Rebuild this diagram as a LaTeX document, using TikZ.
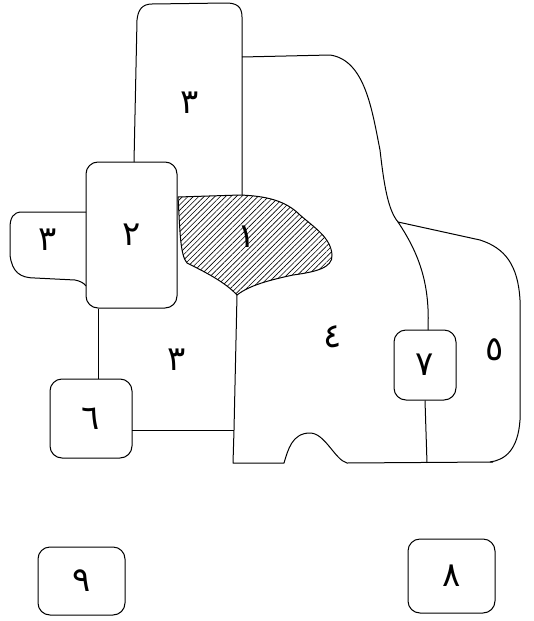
\documentclass[tikz,border=0pt]{standalone}
\usepackage{fontspec}
\usetikzlibrary{patterns.meta}
\newfontfamily\arabicfont[Script=Arabic]{DejaVu Sans}

\begin{document}
\begin{tikzpicture}[
  x=1pt, y=-1pt,
  % region outlines
  edge/.style={draw=black, line width=1pt, line join=round},
  % hand drawn boxes
  boxr/.style={draw=black, line width=1pt, rounded corners=12pt, fill=white,
               inner sep=0pt, font=\arabicfont\fontsize{34}{34}\selectfont},
  % region numbers
  lbl/.style={inner sep=0pt, font=\arabicfont\fontsize{34}{34}\selectfont},
  hatch/.style={pattern={Lines[angle=45, distance=3.8pt, line width=0.6pt]}},
]
\useasboundingbox (0,0) rectangle (533,621);

% ── 1. HATCHED REGION ─────────────────────────────
\path[edge, hatch] (178,197) -- (240,195)
  .. controls (265,196) and (285,200) .. (300,215)
  .. controls (315,228) and (331,238) .. (332,255)
  .. controls (333,268) and (315,272) .. (293,275)
  .. controls (270,280) and (250,285) .. (237,295)
  .. controls (225,282) and (205,272) .. (187,263)
  .. controls (180,255) and (180,230) .. (178,197) -- cycle;
\node[lbl] (l1) at (247,237) {١};

% ── 2. BOXES ──────────────────────────────────────
\node[boxr, minimum width=91pt, minimum height=146pt] (r2) at (131.5,235) {٢};
\node[boxr, minimum width=82pt, minimum height=79pt] (r6) at (91,418.5) {٦};
\node[boxr, minimum width=62pt, minimum height=70pt] (r7) at (425,365) {٧};
\node[boxr, minimum width=87pt, minimum height=74pt] (r8) at (451.5,576) {٨};
\node[boxr, minimum width=87pt, minimum height=68pt] (r9) at (81.5,581) {٩};

% ── 3. REGIONS 3 ──────────────────────────────────
\draw[edge] (242,195) -- (242,17) .. controls (242,6) and (236,3) .. (226,3)
  -- (152,4) .. controls (142,4) and (138,10) .. (137,20) -- (134,162);
\node[lbl] (l3a) at (190,103) {٣};

\draw[edge] (86,212) -- (22,212) .. controls (13,212) and (10,218) .. (10,228)
  -- (10,255) .. controls (12,272) and (20,278) .. (35,278)
  -- (75,280) .. controls (80,281) and (84,283) .. (86,286);
\node[lbl] (l3b) at (48,240) {٣};

\draw[edge] ([xshift=7pt]r6.north) -- ([xshift=7pt]r6.north |- r2.south);
\draw[edge] (132,430) -- (234,430);
\node[lbl] (l3c) at (177,360) {٣};

% ── 4. REGION 4 ───────────────────────────────────
\draw[edge] (242,57) -- (330,55)
  .. controls (365,60) and (372,110) .. (380,150)
  .. controls (384,185) and (388,210) .. (398,222)
  .. controls (420,255) and (430,285) .. (428,330);
\draw[edge] (237,295) -- (234,430) -- (233,463) -- (284,463)
  .. controls (288,450) and (292,433) .. (310,433)
  .. controls (325,433) and (335,460) .. (347,463) -- (493,462);
\draw[edge] (r7.south) -- (427,463);
\node[lbl] (l4) at (333,337) {٤};

% ── 5. REGION 5 ───────────────────────────────────
\draw[edge] (398,222) -- (480,240)
  .. controls (505,248) and (518,265) .. (520,300) -- (520,420)
  .. controls (518,450) and (505,460) .. (490,462);
\node[lbl] (l5) at (495,350) {٥};

\end{tikzpicture}
\end{document}
